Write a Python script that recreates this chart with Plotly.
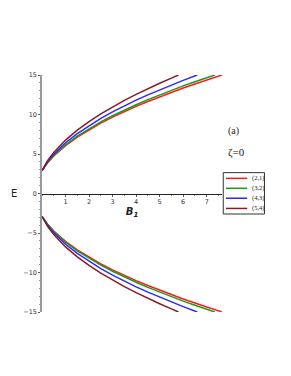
import plotly.graph_objects as go

# B1 values and E (upper branch); lower branch is the mirror
B_21 = [0, 0.1, 0.25, 0.5, 0.75, 1, 1.5, 2, 2.5, 3, 3.5, 4, 4.5, 5, 5.5, 6, 6.5, 7, 7.65]
E_21 = [2.9, 3.35, 3.94, 4.75, 5.44, 6.06, 7.13, 8.06, 8.90, 9.66, 10.37, 11.03, 11.65, 12.24, 12.81, 13.35, 13.87, 14.37, 15.0]

B_32 = [0, 0.1, 0.25, 0.5, 0.75, 1, 1.5, 2, 2.5, 3, 3.5, 4, 4.5, 5, 5.5, 6, 6.5, 7, 7.35]
E_32 = [2.9, 3.37, 3.97, 4.81, 5.53, 6.16, 7.26, 8.21, 9.07, 9.84, 10.57, 11.24, 11.88, 12.49, 13.06, 13.62, 14.15, 14.66, 15.0]

B_43 = [0, 0.1, 0.25, 0.5, 0.75, 1, 1.5, 2, 2.5, 3, 3.5, 4, 4.5, 5, 5.5, 6, 6.6]
E_43 = [2.9, 3.42, 4.08, 4.98, 5.75, 6.42, 7.59, 8.60, 9.51, 10.33, 11.10, 11.82, 12.49, 13.13, 13.74, 14.32, 15.0]

B_54 = [0, 0.1, 0.25, 0.5, 0.75, 1, 1.5, 2, 2.5, 3, 3.5, 4, 4.5, 5, 5.5, 5.8]
E_54 = [2.9, 3.48, 4.21, 5.20, 6.03, 6.76, 8.02, 9.11, 10.08, 10.97, 11.79, 12.55, 13.28, 13.96, 14.61, 15.0]

labels = ["(2,1)", "(3,2)", "(4,3)", "(5,4)"]
colors = ["#ff1a1a", "#1a9a1a", "#2a2aff", "#8a1a2a"]
series = [(B_21, E_21), (B_32, E_32), (B_43, E_43), (B_54, E_54)]

x_ticks = [1, 2, 3, 4, 5, 6, 7]
y_ticks = [-15, -10, -5, 0, 5, 10, 15]

fig = go.Figure()
for (bx, ey), lab, col in zip(series, labels, colors):
    fig.add_trace(go.Scatter(x=bx, y=ey, mode="lines", name=lab,
                             line=dict(color=col, width=1.5), legendgroup=lab,
                             showlegend=False))
    fig.add_trace(go.Scatter(x=bx, y=[-v for v in ey], mode="lines", name=lab,
                             line=dict(color=col, width=1.5), legendgroup=lab,
                             showlegend=False))

# compact legend box (drawn in paper coordinates)
shapes = [dict(type="rect", xref="paper", yref="paper",
               x0=1.007, x1=1.236, y0=0.4135, y1=0.588,
               line=dict(color="#333", width=1), fillcolor="rgba(0,0,0,0)", layer="below")]
annotations = []
row_y = [0.564, 0.522, 0.480, 0.437]
for lab, col, yy in zip(labels, colors, row_y):
    shapes.append(dict(type="line", xref="paper", yref="paper",
                       x0=1.022, x1=1.140, y0=yy, y1=yy,
                       line=dict(color=col, width=1.5), layer="above"))
    annotations.append(dict(text=lab, x=1.158, y=yy, xref="paper", yref="paper",
                            xanchor="left", yanchor="middle", showarrow=False,
                            font=dict(family="Liberation Serif", size=6.5, color="#222")))

annotations += [
    dict(text="E", x=-0.155, y=0.5, xref="paper", yref="paper",
         xanchor="center", yanchor="middle", showarrow=False,
         font=dict(family="DejaVu Sans", size=10, color="#222")),
    dict(text="(a)", x=1.02, y=0.764, xref="paper", yref="paper",
         xanchor="left", yanchor="middle", showarrow=False,
         font=dict(family="Liberation Serif", size=10, color="#222")),
    dict(text="ζ=0", x=1.02, y=0.671, xref="paper", yref="paper",
         xanchor="left", yanchor="middle", showarrow=False,
         font=dict(family="Liberation Serif", size=11, color="#222")),
]

fig.update_layout(
    width=283, height=368,
    margin=dict(l=34, r=69, t=67, b=64),
    paper_bgcolor="white", plot_bgcolor="white",
    showlegend=False,
    xaxis=dict(range=[0, 7.65], anchor="free", position=0.5,
               tickvals=x_ticks, ticks="outside", ticklen=2, tickcolor="#555",
               showline=True, linecolor="#222", linewidth=1,
               showgrid=False, zeroline=False,
               minor=dict(ticks="outside", ticklen=1, dtick=0.5, tickcolor="#888"),
               tickfont=dict(family="DejaVu Sans", size=6.5, color="#333"),
               title=dict(text="<b><i>B<sub>1</sub></i></b>", standoff=1,
                          font=dict(family="DejaVu Sans", size=10, color="#222"))),
    yaxis=dict(range=[-15, 15], tickvals=y_ticks, ticks="outside", ticklen=2,
               tickcolor="#555",
               showline=True, linecolor="#999", linewidth=1.5,
               showgrid=False, zeroline=False,
               minor=dict(ticks="outside", ticklen=1.5, dtick=1, tickcolor="#999"),
               tickfont=dict(family="DejaVu Sans", size=6.5, color="#333")),
    shapes=shapes,
    annotations=annotations,
)

fig.write_html("out.html")
